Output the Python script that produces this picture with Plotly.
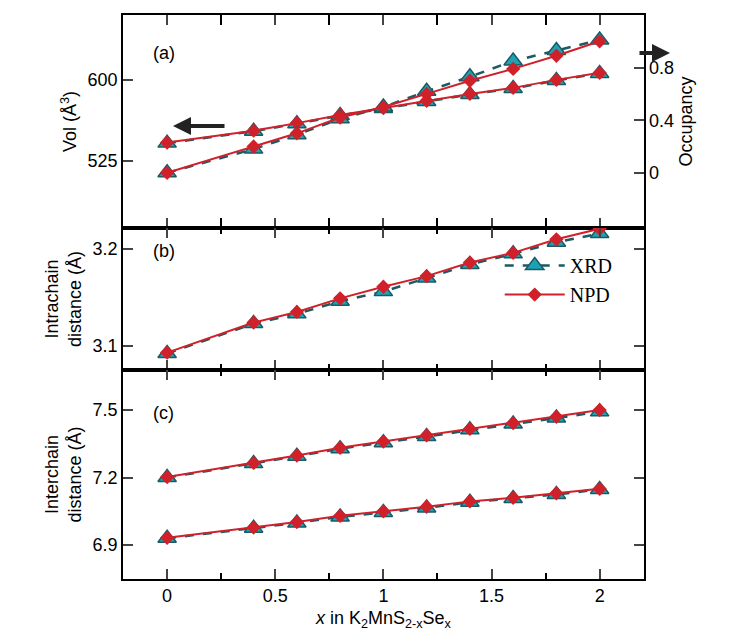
import plotly.graph_objects as go
from plotly.subplots import make_subplots

x = [0, 0.4, 0.6, 0.8, 1.0, 1.2, 1.4, 1.6, 1.8, 2.0]
vol_xrd = [541.5, 552.5, 559.5, 567.0, 573.5, 580.0, 586.5, 592.0, 599.5, 606.0]
vol_npd = [542.0, 553.0, 560.0, 567.6, 574.0, 580.6, 587.0, 592.6, 600.0, 606.5]
occ_xrd = [0.0, 0.18, 0.29, 0.41, 0.50, 0.62, 0.73, 0.85, 0.93, 1.01]
occ_npd = [0.0, 0.20, 0.30, 0.42, 0.50, 0.60, 0.70, 0.79, 0.89, 1.00]
intra_xrd = [3.092, 3.123, 3.133, 3.146, 3.156, 3.170, 3.184, 3.195, 3.207, 3.216]
intra_npd = [3.093, 3.124, 3.135, 3.149, 3.161, 3.172, 3.186, 3.196, 3.210, 3.221]
inter1_xrd = [7.200, 7.262, 7.295, 7.328, 7.355, 7.382, 7.412, 7.438, 7.465, 7.492]
inter1_npd = [7.202, 7.265, 7.298, 7.332, 7.360, 7.387, 7.416, 7.442, 7.470, 7.500]
inter2_xrd = [6.930, 6.975, 6.998, 7.025, 7.045, 7.065, 7.090, 7.107, 7.125, 7.147]
inter2_npd = [6.932, 6.978, 7.002, 7.030, 7.050, 7.070, 7.094, 7.110, 7.130, 7.150]

TEAL_F = "#1ba3b5"; TEAL_L = "#1d5a63"; RED = "#d0202a"

fig = make_subplots(rows=3, cols=1, shared_xaxes=True, vertical_spacing=0,
                    row_heights=[213, 142, 209],
                    specs=[[{"secondary_y": True}], [{}], [{}]])

def add(xv, yv, kind, row, sec=False, legend=False):
    if kind == "xrd":
        tr = go.Scatter(x=xv, y=yv, mode="lines+markers", name="XRD", showlegend=legend,
                        line=dict(color=TEAL_L, width=2.5, dash="dash"),
                        marker=dict(symbol="triangle-up", size=16, color=TEAL_F,
                                    line=dict(color=TEAL_L, width=1.5)))
    else:
        tr = go.Scatter(x=xv, y=yv, mode="lines+markers", name="NPD", showlegend=legend,
                        line=dict(color=RED, width=2),
                        marker=dict(symbol="diamond", size=11, color=RED))
    if row == 1:
        fig.add_trace(tr, row=1, col=1, secondary_y=sec)
    else:
        fig.add_trace(tr, row=row, col=1)

add(x, vol_xrd, "xrd", 1); add(x, vol_npd, "npd", 1)
add(x, occ_xrd, "xrd", 1, sec=True); add(x, occ_npd, "npd", 1, sec=True)
add(x, intra_xrd, "xrd", 2, legend=True); add(x, intra_npd, "npd", 2, legend=True)
add(x, inter1_xrd, "xrd", 3); add(x, inter1_npd, "npd", 3)
add(x, inter2_xrd, "xrd", 3); add(x, inter2_npd, "npd", 3)

axfont = dict(family="Arial", size=18, color="black")
for r in (1, 2, 3):
    fig.update_xaxes(row=r, col=1, range=[-0.204, 2.204], tick0=0, dtick=0.5,
                     ticks="inside", ticklen=10, tickwidth=1.5,
                     minor=dict(dtick=0.25, ticks="inside", ticklen=6, tickwidth=1.5, tickcolor="black"),
                     showline=True, linewidth=1.5, linecolor="black", mirror="allticks",
                     showgrid=False, zeroline=False, tickfont=axfont, automargin=False)
fig.update_xaxes(row=3, col=1, title=dict(text="<i>x</i> in K<sub>2</sub>MnS<sub>2-x</sub>Se<sub>x</sub>",
                                           font=axfont, standoff=6))
common_y = dict(ticks="inside", ticklen=10, tickwidth=1.5, showline=True, linewidth=1.5,
                linecolor="black", showgrid=False, zeroline=False, tickfont=axfont, automargin=False)
fig.update_yaxes(row=1, col=1, secondary_y=False, range=[463, 660], tickvals=[525, 600],
                 title=dict(text="Vol (Å<sup>3</sup>)", font=axfont, standoff=6), mirror=False, **common_y)
fig.update_yaxes(row=1, col=1, secondary_y=True, range=[-0.42, 1.20], tickvals=[0, 0.4, 0.8],
                 ticktext=["0", "0.4", "0.8"], title=dict(text="Occupancy", font=axfont, standoff=6), **common_y)
fig.update_yaxes(row=2, col=1, range=[3.075, 3.2217], tickvals=[3.1, 3.2],
                 title=dict(text="Intrachain<br>distance (Å)", font=axfont, standoff=6), mirror="allticks", **common_y)
fig.update_yaxes(row=3, col=1, range=[6.749, 7.678], tickvals=[6.9, 7.2, 7.5],
                 title=dict(text="Interchain<br>distance (Å)", font=axfont, standoff=6), mirror="allticks", **common_y)

H = 564
ann = []
for lab, yp in (("(a)", 45), ("(b)", 243), ("(c)", 405)):
    ann.append(dict(text=lab, xref="paper", yref="paper", x=(143 - 115) / 554, y=(571 - yp) / H,
                    xanchor="left", yanchor="middle", showarrow=False, font=axfont))
ann.append(dict(text="", xref="paper", yref="paper", x=(165 - 115) / 554, y=(571 - 118) / H,
                ax=53, ay=0, showarrow=True, arrowhead=2, arrowsize=0.9, arrowwidth=4, arrowcolor="#222"))
ann.append(dict(text="", xref="paper", yref="paper", x=(662 - 115) / 554, y=(571 - 45) / H,
                ax=-32, ay=0, showarrow=True, arrowhead=2, arrowsize=0.9, arrowwidth=4, arrowcolor="#222"))

fig.update_layout(width=747, height=636, margin=dict(l=115, r=78, t=7, b=65),
                  plot_bgcolor="white", paper_bgcolor="white", annotations=ann,
                  legend=dict(x=0.68, y=0.53, xanchor="left", yanchor="middle", bgcolor="rgba(0,0,0,0)",
                              font=dict(family="Liberation Serif", size=20, color="black"),
                              tracegroupgap=12, itemwidth=60))
fig.write_html("out.html")
